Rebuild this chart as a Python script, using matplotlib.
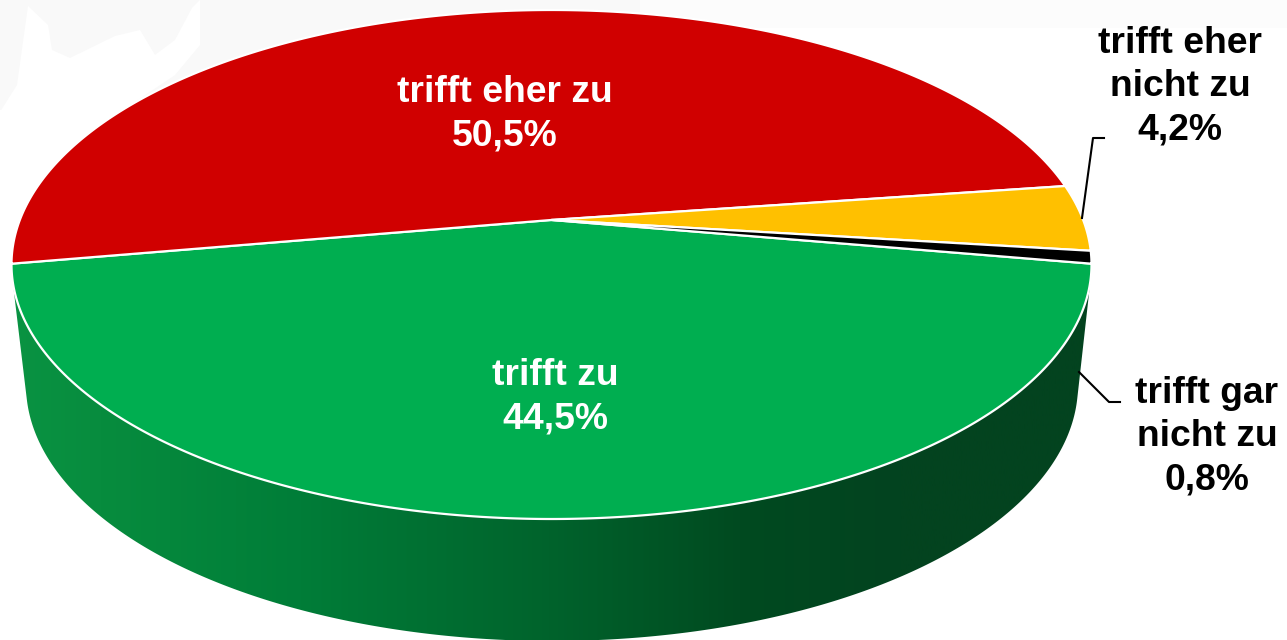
import numpy as np
import matplotlib
matplotlib.use("Agg")
import matplotlib.pyplot as plt
from matplotlib.colors import LinearSegmentedColormap
from matplotlib.patches import Polygon

# ---- data ----
categories = ["trifft zu", "trifft eher zu", "trifft eher\nnicht zu", "trifft gar\nnicht zu"]
values = [44.5, 50.5, 4.2, 0.8]
value_labels = ["44,5%", "50,5%", "4,2%", "0,8%"]
colors = ["#00AE50", "#D00000", "#FFC000", "#000000"]
text_colors = ["white", "white", "black", "black"]
label_xy = [(555, 397), (505, 114), (1180, 87), (1207, 436.5)]

plt.rcParams["font.family"] = ["Liberation Sans", "DejaVu Sans"]
W, H = 1287, 640
fig = plt.figure(figsize=(W / 100, H / 100), dpi=100)
ax = fig.add_axes([0, 0, 1, 1])

# perspective disc geometry
CX, CY, A, B, T = 551.5, 264.5, 540, 254.5, 0.175
LOW = (552, 385, 526, 256)


def project(theta):
    u, v = np.cos(theta), np.sin(theta)
    d = 1 + T * v
    return CX + A * u * np.sqrt(1 - T ** 2) / d, CY - B * (v + T) / d


def hull(pts):
    pts = sorted(set(map(tuple, pts)))
    def half(seq):
        out = []
        for p in seq:
            while len(out) > 1 and ((out[-1][0] - out[-2][0]) * (p[1] - out[-2][1])
                                    - (out[-1][1] - out[-2][1]) * (p[0] - out[-2][0])) <= 0:
                out.pop()
            out.append(p)
        return out[:-1]
    return half(pts) + half(pts[::-1])


# faint background
ax.fill([0, 640, 640, 0], [0, 0, 110, 110], color="#F9F9F9", lw=0, zorder=0)
ax.fill([640, 1287, 1287, 640], [0, 0, 28, 28], color="#FCFCFC", lw=0, zorder=0)
ax.fill([0, 17, 28, 48, 52, 70, 115, 140, 155, 175, 192, 200, 200, 175, 120, 0],
        [112, 85, 6, 25, 50, 58, 36, 30, 55, 40, 8, 0, 45, 75, 112, 112],
        color="white", lw=0, zorder=0.5)

# side wall with horizontal shading
t = np.linspace(0, 2 * np.pi, 720)
top_pts = np.c_[CX + A * np.cos(t), CY + B * np.sin(t)]
low_pts = np.c_[LOW[0] + LOW[2] * np.cos(t), LOW[1] + LOW[3] * np.sin(t)]
wall = Polygon(hull(np.r_[top_pts, low_pts]), closed=True, fc="none", ec="none", transform=ax.transData)
ax.add_patch(wall)
stops = [(0.0, "#0A9443"), (100 / W, "#078C3E"), (300 / W, "#007D38"), (550 / W, "#00632C"),
         (740 / W, "#004A20"), (900 / W, "#03431F"), (1.0, "#03431F")]
cmap = LinearSegmentedColormap.from_list("side", stops)
im = ax.imshow(np.linspace(0, 1, 512)[None, :], cmap=cmap, extent=(0, W, H, 0), aspect="auto", zorder=1)
im.set_clip_path(wall)

# top face, driven by the values
sweeps = np.radians(np.array(values) / sum(values) * 360)
start = -np.pi / 2 + sweeps[0] / 2
apex = (CX + 0, CY - B * T)
for val, sweep, col in zip(values, sweeps, colors):
    th = np.linspace(start, start - sweep, max(int(val * 12), 8))
    x, y = project(th)
    ax.fill(np.r_[apex[0], x], np.r_[apex[1], y], fc=col, ec="white", lw=1.6, joinstyle="round", zorder=2)
    start -= sweep

# leader lines
ax.plot([1082, 1093, 1104], [218, 138, 138], color="black", lw=1.5, zorder=3)
ax.plot([1079, 1109, 1120], [372, 402, 402], color="black", lw=1.5, zorder=3)

# labels
for cat, lab, (lx, ly), tc in zip(categories, value_labels, label_xy, text_colors):
    ax.text(lx, ly, f"{cat}\n{lab}", ha="center", va="center", ma="center", color=tc,
            fontsize=26.8, fontweight="bold", linespacing=1.3, zorder=4)

ax.set_xlim(0, W)
ax.set_ylim(H, 0)
ax.axis("off")
fig.savefig("out.png", dpi=100, facecolor="white")
